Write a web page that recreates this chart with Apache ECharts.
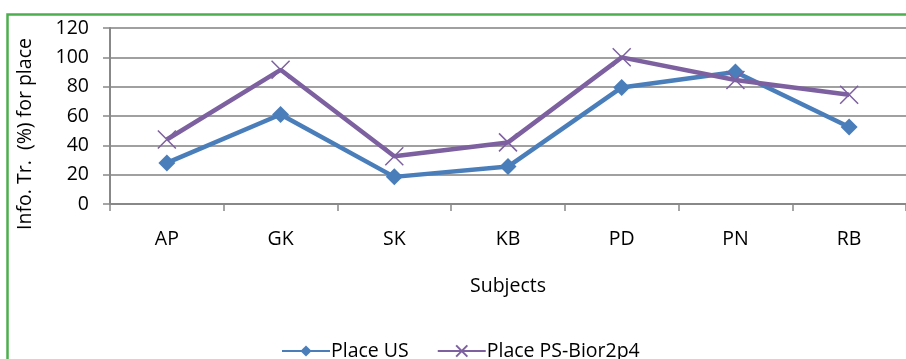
<!DOCTYPE html>
<html><head><meta charset="utf-8">
<script src="https://cdn.jsdelivr.net/npm/echarts@6/dist/echarts.min.js"></script>
<style>html,body{margin:0;padding:0;background:#fff}#c{width:906px;height:359px}</style>
</head><body><div id="c"></div>
<script>
const categories = ['AP','GK','SK','KB','PD','PN','RB'];
const placeUS = [28, 61, 18.5, 25.5, 79.5, 90, 52.5];
const placePS = [44, 91.5, 32.5, 42, 100, 84.5, 74.5];
const yTicks = [0, 20, 40, 60, 80, 100, 120];
const seriesNames = ['Place US', 'Place PS-Bior2p4'];
const yTitle = 'Info. Tr.  (%) for place';

const font = "'Open Sans', 'Liberation Sans', sans-serif";
const chart = echarts.init(document.getElementById('c'), null, {renderer:'canvas'});
chart.setOption({
  animation: false,
  backgroundColor: '#fff',
  graphic: [{
    type: 'rect', left: 5, top: 12, z: 100, silent: true,
    shape: {width: 960, height: 400},
    style: {fill: 'none', stroke: '#4cae4f', lineWidth: 2.5}
  }, {
    type: 'text', x: 25, y: 134, rotation: Math.PI/2, silent: true,
    style: {text: yTitle, fontFamily: font, fontSize: 19.5, fill: '#000', align: 'center', verticalAlign: 'middle'}
  }],
  grid: {left: 110, right: -5, top: 28, bottom: 155, containLabel: false},
  xAxis: {
    type: 'category', data: categories, boundaryGap: true,
    name: 'Subjects', nameLocation: 'middle', nameGap: 72,
    nameTextStyle: {fontFamily: font, fontSize: 19.5, color: '#000'},
    axisLine: {lineStyle: {color: '#888', width: 2}},
    axisTick: {show: true, length: 7, lineStyle: {color: '#888', width: 1.5}},
    axisLabel: {fontFamily: font, fontSize: 19.5, color: '#000', margin: 25}
  },
  yAxis: {
    type: 'value', min: yTicks[0], max: yTicks[yTicks.length-1], interval: 20,
    axisLine: {show: true, lineStyle: {color: '#888', width: 2}},
    axisTick: {show: true, length: 7, lineStyle: {color: '#888', width: 1.5}},
    axisLabel: {fontFamily: font, fontSize: 19.5, color: '#000', margin: 21},
    splitLine: {lineStyle: {color: '#a0a0a0', width: 2}}
  },
  legend: {
    top: 336, left: 276, itemWidth: 48, itemHeight: 14, itemGap: 28,
    textStyle: {fontFamily: font, fontSize: 19.5, color: '#000', padding: [0,0,0,-4]},
    data: [seriesNames[0], seriesNames[1]]
  },
  series: [
    {
      name: seriesNames[0], type: 'line', data: placeUS,
      symbol: 'diamond', symbolSize: 17,
      lineStyle: {color: '#4a7ebb', width: 4.5},
      itemStyle: {color: '#4a7ebb'}
    },
    {
      name: seriesNames[1], type: 'line', data: placePS,
      symbol: 'path://M0,0L10,10M10,0L0,10', symbolSize: 18,
      lineStyle: {color: '#7d60a0', width: 4.5},
      itemStyle: {color: 'none', borderColor: '#7d60a0', borderWidth: 1.5}
    }
  ]
});
</script></body></html>
